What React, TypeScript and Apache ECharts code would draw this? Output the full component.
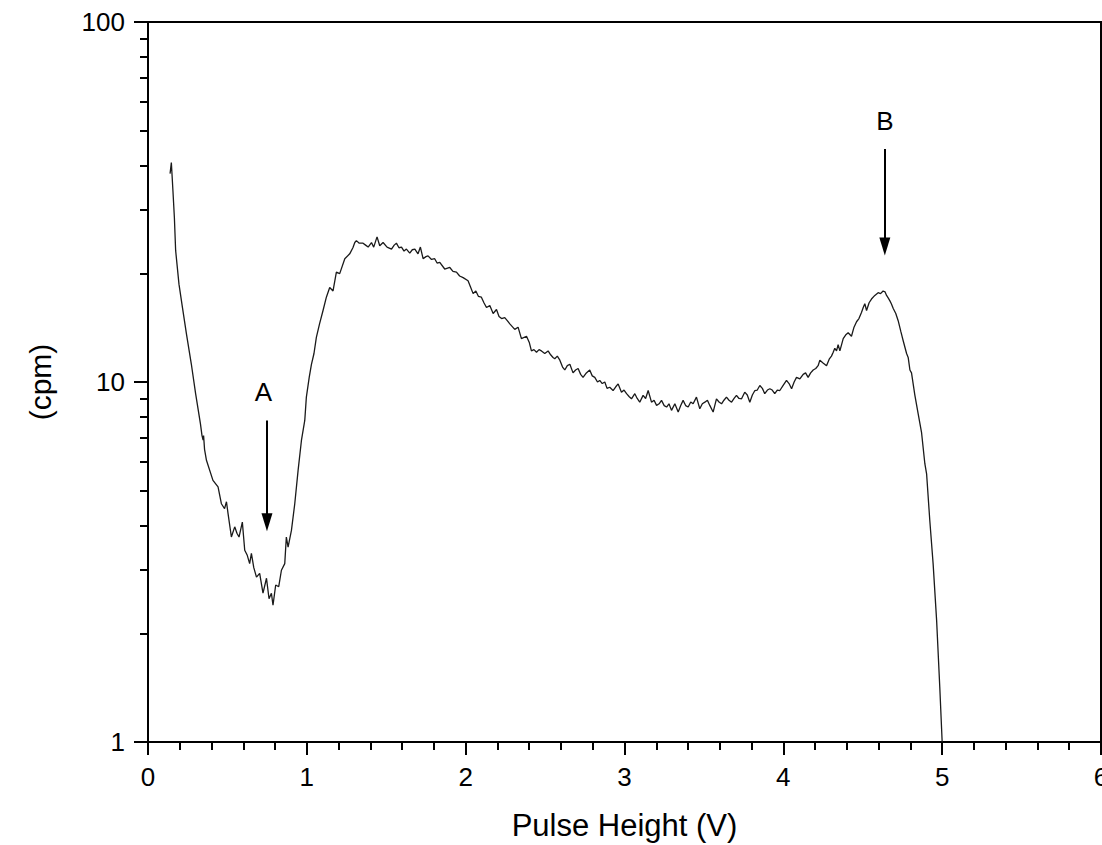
import React, { useEffect, useRef } from "react";
import * as echarts from "echarts";

const pulseHeight: number[] = [
  0.139, 0.147, 0.157, 0.166, 0.174, 0.195, 0.217, 0.242, 0.273, 0.300, 0.330, 0.340, 0.347, 0.350, 0.356, 0.368,
  0.409, 0.441, 0.462, 0.482, 0.494, 0.504, 0.525, 0.546, 0.560, 0.573, 0.594, 0.609, 0.625, 0.640, 0.651, 0.666,
  0.683, 0.703, 0.724, 0.746, 0.762, 0.777, 0.787, 0.804, 0.823, 0.840, 0.861, 0.871, 0.882, 0.903, 0.924, 0.945,
  0.966, 0.987, 0.997, 1.015, 1.029, 1.045, 1.060, 1.080, 1.102, 1.123, 1.144, 1.165, 1.186, 1.207, 1.239, 1.270,
  1.290, 1.302, 1.312, 1.330, 1.354, 1.370, 1.386, 1.407, 1.421, 1.442, 1.459, 1.480, 1.505, 1.533, 1.550, 1.564,
  1.580, 1.596, 1.612, 1.627, 1.648, 1.664, 1.680, 1.700, 1.715, 1.732, 1.750, 1.763, 1.785, 1.805, 1.820, 1.837,
  1.868, 1.900, 1.920, 1.942, 1.962, 1.984, 2.015, 2.030, 2.047, 2.064, 2.080, 2.099, 2.115, 2.131, 2.152, 2.173,
  2.194, 2.210, 2.226, 2.246, 2.262, 2.278, 2.309, 2.330, 2.351, 2.383, 2.400, 2.414, 2.430, 2.446, 2.462, 2.477,
  2.498, 2.519, 2.535, 2.550, 2.561, 2.577, 2.593, 2.610, 2.624, 2.640, 2.656, 2.676, 2.692, 2.708, 2.724, 2.739,
  2.760, 2.781, 2.797, 2.813, 2.830, 2.844, 2.860, 2.876, 2.890, 2.907, 2.928, 2.945, 2.960, 2.981, 2.997, 3.013,
  3.030, 3.044, 3.065, 3.080, 3.096, 3.117, 3.133, 3.149, 3.170, 3.186, 3.202, 3.218, 3.233, 3.250, 3.265, 3.280,
  3.296, 3.317, 3.338, 3.354, 3.369, 3.385, 3.401, 3.417, 3.432, 3.453, 3.474, 3.490, 3.506, 3.522, 3.537, 3.558,
  3.579, 3.595, 3.611, 3.626, 3.642, 3.658, 3.674, 3.690, 3.705, 3.721, 3.737, 3.757, 3.773, 3.789, 3.805, 3.821,
  3.836, 3.852, 3.868, 3.883, 3.900, 3.915, 3.930, 3.946, 3.962, 3.978, 4.000, 4.020, 4.036, 4.052, 4.068, 4.083,
  4.104, 4.125, 4.140, 4.156, 4.172, 4.188, 4.204, 4.219, 4.230, 4.250, 4.272, 4.290, 4.303, 4.314, 4.324, 4.335,
  4.345, 4.356, 4.377, 4.392, 4.408, 4.429, 4.445, 4.461, 4.476, 4.492, 4.503, 4.513, 4.524, 4.540, 4.555, 4.576,
  4.597, 4.612, 4.628, 4.640, 4.650, 4.661, 4.671, 4.680, 4.692, 4.708, 4.723, 4.740, 4.755, 4.776, 4.786, 4.797,
  4.807, 4.828, 4.849, 4.870, 4.891, 4.902, 4.922, 4.943, 4.965, 4.985, 5.000,
];

const countRate: number[] = [
  37.9, 40.7, 34.0, 28.7, 23.2, 18.7, 16.1, 13.6, 11.2, 9.27, 7.66, 7.1, 6.9, 7.1, 6.5, 6.06,
  5.33, 5.11, 4.59, 4.45, 4.65, 4.31, 3.71, 3.96, 3.80, 3.71, 4.08, 3.41, 3.30, 3.13, 3.34, 3.05,
  2.87, 2.94, 2.59, 2.85, 2.50, 2.59, 2.40, 2.73, 2.70, 3.00, 3.13, 3.71, 3.48, 3.87, 4.59, 5.68,
  6.88, 7.82, 9.08, 10.3, 11.2, 12.0, 13.3, 14.5, 15.8, 17.2, 18.3, 17.9, 20.2, 20.0, 22.0, 22.7,
  23.6, 24.4, 24.7, 24.3, 24.3, 24.0, 23.7, 24.4, 23.7, 25.3, 23.9, 24.4, 23.7, 23.4, 24.0, 24.3,
  23.6, 23.7, 23.1, 23.4, 22.8, 23.3, 23.4, 22.7, 23.7, 22.0, 22.3, 22.4, 21.9, 22.0, 21.4, 21.5,
  20.6, 20.8, 20.3, 20.2, 19.7, 19.5, 19.1, 18.4, 17.6, 17.9, 17.3, 17.2, 16.6, 16.1, 16.3, 15.5,
  15.9, 15.2, 15.0, 15.1, 14.8, 14.5, 14.0, 14.2, 13.2, 13.4, 12.9, 12.2, 12.3, 12.1, 12.3, 12.2,
  12.0, 12.2, 11.9, 11.7, 11.6, 11.8, 11.5, 11.0, 10.8, 11.1, 11.2, 10.6, 10.8, 10.9, 10.5, 10.3,
  10.6, 10.8, 10.4, 10.3, 10.0, 10.1, 9.9, 10.0, 9.6, 9.67, 9.47, 9.7, 9.88, 9.37, 9.5, 9.28,
  9.1, 8.98, 9.28, 9.0, 8.79, 9.18, 9.0, 9.47, 8.79, 8.9, 8.61, 8.7, 8.89, 8.6, 8.52, 8.7,
  8.34, 8.70, 8.25, 8.6, 8.89, 8.6, 8.52, 8.8, 8.70, 9.08, 8.43, 8.7, 8.79, 8.9, 8.61, 8.25,
  8.98, 8.8, 8.70, 8.9, 9.08, 8.9, 8.79, 9.0, 9.18, 9.0, 8.98, 9.37, 9.2, 8.79, 9.2, 9.47,
  9.5, 9.78, 9.6, 9.28, 9.5, 9.58, 9.5, 9.28, 9.5, 9.47, 9.8, 10.1, 9.9, 9.58, 10.0, 10.3,
  10.2, 10.5, 10.6, 10.3, 10.6, 10.8, 10.9, 11.1, 11.5, 11.3, 11.1, 11.6, 11.8, 12.1, 12.4, 12.2,
  12.7, 12.2, 13.2, 13.5, 13.7, 13.4, 14.2, 14.7, 15.0, 15.6, 16.1, 16.5, 15.8, 16.6, 17.0, 17.4,
  17.7, 17.6, 17.9, 17.8, 17.4, 17.1, 16.8, 16.5, 16.0, 15.5, 14.8, 13.8, 13.0, 12.0, 11.7, 10.8,
  10.6, 9.2, 8.16, 7.25, 5.93, 5.56, 4.13, 3.13, 2.18, 1.42, 1.0,
];

const yMinorTicks: number[] = [2, 3, 4, 5, 6, 7, 8, 9, 20, 30, 40, 50, 60, 70, 80, 90];

// annotations A and B: label position and arrow (x, start y, tip y)
const annotLabels: string[] = ["A", "B"];
const annotX: number[] = [0.749, 4.639];
const annotLabelX: number[] = [0.727, 4.639];
const annotLabelY: number[] = [9.38, 53.1];
const arrowFrom: number[] = [7.82, 44.4];
const arrowTo: number[] = [4.08, 23.8];

const FONT = "'Liberation Sans', Arial, sans-serif";

export default function App() {
  const ref = useRef<HTMLDivElement>(null);

  useEffect(() => {
    if (!ref.current) return;
    const chart = echarts.init(ref.current, null, { renderer: "svg" });
    const data = pulseHeight.map((x, i) => [x, countRate[i]]);

    const markLineData = annotLabels.map((_, i) => [
      { coord: [annotX[i], arrowFrom[i]], symbol: "none" },
      { coord: [annotX[i], arrowTo[i]], symbol: "triangle", symbolSize: [11, 18] },
    ]);
    const markPointData = annotLabels.map((name, i) => ({
      name,
      coord: [annotLabelX[i], annotLabelY[i]],
    }));

    chart.setOption({
      animation: false,
      backgroundColor: "#fff",
      textStyle: { fontFamily: FONT },
      grid: {
        left: 148,
        top: 22,
        right: 1,
        bottom: 103,
        containLabel: false,
        outerBoundsMode: "none",
        show: true,
        borderColor: "#000",
        borderWidth: 2,
        backgroundColor: "transparent",
      },
      xAxis: {
        type: "value",
        min: 0,
        max: 6,
        interval: 1,
        name: "Pulse Height (V)",
        nameLocation: "middle",
        nameGap: 68,
        nameTextStyle: { fontSize: 31, color: "#000", fontFamily: FONT },
        axisLine: { show: true, lineStyle: { color: "#000", width: 2 } },
        axisTick: { show: true, inside: false, length: 13, lineStyle: { color: "#000", width: 2 } },
        minorTick: { show: true, splitNumber: 5, length: 8, lineStyle: { color: "#000", width: 2 } },
        axisLabel: { fontSize: 26, color: "#000", margin: 22, fontFamily: FONT, hideOverlap: false },
        splitLine: { show: false },
        minorSplitLine: { show: false },
      },
      yAxis: [
        {
          type: "log",
          logBase: 10,
          min: 1,
          max: 100,
          name: "(cpm)",
          nameLocation: "middle",
          nameGap: 93,
          nameRotate: 90,
          nameTextStyle: { fontSize: 30, color: "#000", fontFamily: FONT },
          axisLine: { show: true, lineStyle: { color: "#000", width: 2 } },
          axisTick: { show: true, inside: false, length: 14, lineStyle: { color: "#000", width: 2 } },
          minorTick: { show: false },
          axisLabel: { fontSize: 26, color: "#000", margin: 23, fontFamily: FONT },
          splitLine: { show: false },
          minorSplitLine: { show: false },
        },
        {
          type: "log",
          logBase: 10,
          min: 1,
          max: 100,
          position: "left",
          offset: 0,
          axisLine: { show: false },
          axisTick: {
            show: true,
            inside: false,
            length: 8,
            customValues: yMinorTicks,
            lineStyle: { color: "#000", width: 2 },
          },
          axisLabel: { show: false },
          splitLine: { show: false },
        },
      ],
      series: [
        {
          type: "line",
          data,
          showSymbol: false,
          symbol: "none",
          lineStyle: { color: "#1a1a1a", width: 1.3 },
          yAxisIndex: 0,
          z: 3,
          markLine: {
            silent: true,
            animation: false,
            symbol: ["none", "triangle"],
            lineStyle: { color: "#000", width: 2, type: "solid" },
            itemStyle: { color: "#000" },
            label: { show: false },
            emphasis: { disabled: true },
            data: markLineData,
          },
          markPoint: {
            silent: true,
            animation: false,
            symbol: "circle",
            symbolSize: 1,
            itemStyle: { color: "rgba(0,0,0,0)" },
            label: {
              show: true,
              position: "inside",
              formatter: "{b}",
              fontSize: 26,
              color: "#000",
              fontFamily: FONT,
            },
            data: markPointData,
          },
        },
      ],
    });
    return () => chart.dispose();
  }, []);

  return (
    <div
      ref={ref}
      style={{ position: "absolute", left: 0, top: 0, width: 1102, height: 845, background: "#fff" }}
    />
  );
}
